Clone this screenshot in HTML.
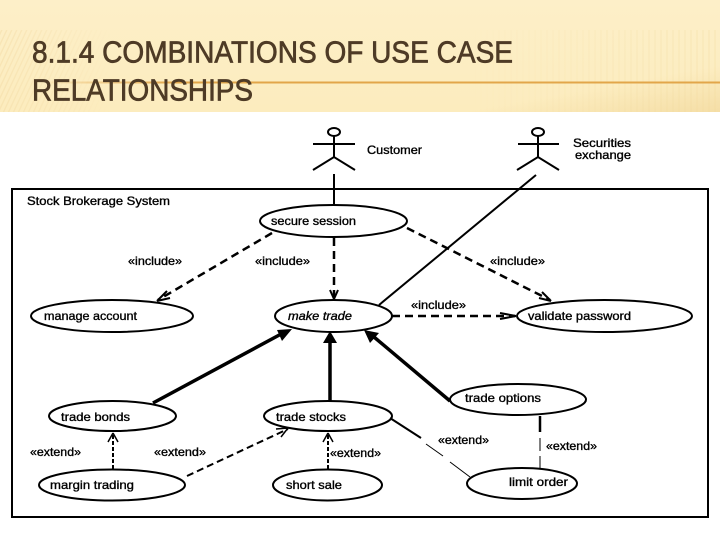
<!DOCTYPE html>
<html><head><meta charset="utf-8"><style>
html,body{margin:0;padding:0;background:#fff}
svg{display:block}
.t{font-family:"Liberation Sans",sans-serif;font-size:12px;fill:#000;stroke:#000;stroke-width:.35}
.h{font-family:"Liberation Sans",sans-serif;font-size:31px;fill:#4e3b26;stroke:#4e3b26;stroke-width:.7}
.d{stroke-dasharray:8 5}
</style></head><body>
<svg width="720" height="540" viewBox="0 0 720 540" xmlns="http://www.w3.org/2000/svg">
<defs>
<linearGradient id="bg" x1="0" y1="0" x2="0" y2="1"><stop offset="0" stop-color="#fdefc8"/><stop offset="1" stop-color="#fcecbe"/></linearGradient>
<linearGradient id="rule" x1="0" x2="1" y1="0" y2="0"><stop offset="0" stop-color="#e2a64a" stop-opacity="0"/><stop offset=".2" stop-color="#e2a64a"/><stop offset="1" stop-color="#e2a64a"/></linearGradient>
<linearGradient id="corner" x1="0" y1="0" x2="1" y2="1"><stop offset=".55" stop-color="#f0d597" stop-opacity="0"/><stop offset="1" stop-color="#f0d597" stop-opacity=".6"/></linearGradient>
<pattern id="diag" width="5" height="10" patternUnits="userSpaceOnUse" patternTransform="skewX(-25)"><rect x="0" width="1.5" height="10" fill="#f3dca6" opacity=".5"/></pattern>
<pattern id="vert" width="6" height="10" patternUnits="userSpaceOnUse"><rect x="0" width="2" height="10" fill="#f3dca6" opacity=".28"/></pattern>
<linearGradient id="mL" x1="0" x2="1" y1="0" y2="0"><stop offset="0" stop-color="#000"/><stop offset="1" stop-color="#fff"/></linearGradient>
<linearGradient id="mR" x1="0" x2="1" y1="0" y2="0"><stop offset="0" stop-color="#fff"/><stop offset="1" stop-color="#000"/></linearGradient>
<mask id="maskL"><rect x="0" y="30" width="110" height="82" fill="url(#mR)"/></mask>
<mask id="maskR"><rect x="470" y="30" width="250" height="82" fill="url(#mL)"/></mask>
</defs>

<rect width="720" height="112" fill="url(#bg)"/>
<rect x="0" y="30" width="110" height="82" fill="url(#diag)" mask="url(#maskL)"/>
<rect x="470" y="30" width="250" height="82" fill="url(#vert)" mask="url(#maskR)"/>
<rect x="430" y="60" width="290" height="52" fill="url(#corner)"/>
<rect x="40" y="81.5" width="680" height="2" fill="url(#rule)"/>
<text class="h" x="32" y="62.5" textLength="481" lengthAdjust="spacingAndGlyphs">8.1.4 COMBINATIONS OF USE CASE</text>
<text class="h" x="32" y="100.5" textLength="221" lengthAdjust="spacingAndGlyphs">RELATIONSHIPS</text>

<rect x="12" y="189" width="696" height="328" fill="#fff" stroke="#000" stroke-width="2"/>

<g fill="none" stroke="#000" stroke-width="2">
<!-- actors -->
<ellipse cx="334" cy="132" rx="6" ry="4"/>
<path d="M313 144H355M334 136V157M313 170L334 157L355 170"/>
<ellipse cx="538" cy="132" rx="6" ry="4"/>
<path d="M518 144H559M538 136V157M517 170L538 157L559 170"/>
<path d="M334 174V205"/>
<path d="M536 175L379 305"/>

<!-- use cases -->
<ellipse cx="333.5" cy="221" rx="73.5" ry="16"/>
<ellipse cx="112" cy="316" rx="81" ry="16"/>
<ellipse cx="333.5" cy="316" rx="58.5" ry="16"/>
<ellipse cx="604.5" cy="316" rx="87.5" ry="16"/>
<ellipse cx="112.5" cy="416" rx="63.5" ry="15"/>
<ellipse cx="328" cy="416" rx="64" ry="15"/>
<ellipse cx="112" cy="485" rx="73" ry="15.5"/>
<ellipse cx="327.5" cy="485" rx="54.5" ry="15.5"/>
<ellipse cx="518" cy="399.5" rx="68" ry="15.5"/>
<ellipse cx="522" cy="483.5" rx="55" ry="15.5"/>

<!-- include -->
<path class="d" stroke-width="2.5" d="M272 233L158 300"/>
<path d="M157 301L167 291M157 301L170 298"/>
<path class="d" stroke-width="2.5" d="M334 238V298"/>
<path d="M334 299L330 290M334 299L338 290"/>
<path class="d" stroke-width="2.5" d="M407 228L550 300"/>
<path d="M551 301L539 298M551 301L542 292"/>
<path class="d" stroke-width="2.5" d="M392 316H515"/>
<path d="M516 316L500 313M516 316L500 319"/>

<!-- extend -->
<path stroke-dasharray="4 2" d="M113 469V434"/>
<path stroke-width="1.5" d="M113 433L108 442M113 433L118 442"/>
<path stroke-dasharray="7 4" d="M187 476L288 429"/>
<path stroke-width="1.5" d="M288 428L276 429M288 428L281 437"/>
<path stroke-dasharray="4 2" d="M328 469V434"/>
<path stroke-width="1.5" d="M328 433L323 442M328 433L333 442"/>
<path d="M421 438L390 418"/>
<path stroke-width="1" d="M426 444L443 456M450 462L470 477"/>
<path stroke-width="2.5" d="M540 416V432"/>
<path stroke-width="1" d="M540 438V451M540 456V468"/>

<!-- generalization -->
<path stroke-width="3.5" d="M153 403L283 333"/>
<path stroke-width="3.5" d="M330 401V340"/>
<path stroke-width="3.5" d="M450 401L374 337"/>
</g>
<path d="M292 329L277 330L282 341Z" fill="#000"/>
<path d="M330 331L323 343H337Z" fill="#000"/>
<path d="M364 330L370 343L379 333Z" fill="#000"/>

<!-- labels -->
<g>
<text class="t" x="367" y="154" textLength="55" lengthAdjust="spacingAndGlyphs">Customer</text>
<text class="t" x="573" y="147" textLength="58" lengthAdjust="spacingAndGlyphs">Securities</text>
<text class="t" x="575" y="159" textLength="56" lengthAdjust="spacingAndGlyphs">exchange</text>
<text class="t" x="27" y="205" textLength="143" lengthAdjust="spacingAndGlyphs">Stock Brokerage System</text>
<text class="t" x="271" y="225" textLength="85" lengthAdjust="spacingAndGlyphs">secure session</text>
<text class="t" x="128" y="265" textLength="54" lengthAdjust="spacingAndGlyphs">«include»</text>
<text class="t" x="255" y="265" textLength="55" lengthAdjust="spacingAndGlyphs">«include»</text>
<text class="t" x="490" y="265" textLength="55" lengthAdjust="spacingAndGlyphs">«include»</text>
<text class="t" x="411" y="309" textLength="55" lengthAdjust="spacingAndGlyphs">«include»</text>
<text class="t" x="44" y="320" textLength="93" lengthAdjust="spacingAndGlyphs">manage account</text>
<text class="t" x="288" y="320" textLength="64" lengthAdjust="spacingAndGlyphs" font-style="italic">make trade</text>
<text class="t" x="528" y="320" textLength="103" lengthAdjust="spacingAndGlyphs">validate password</text>
<text class="t" x="465" y="402" textLength="76" lengthAdjust="spacingAndGlyphs">trade options</text>
<text class="t" x="61" y="421" textLength="69" lengthAdjust="spacingAndGlyphs">trade bonds</text>
<text class="t" x="276" y="421" textLength="70" lengthAdjust="spacingAndGlyphs">trade stocks</text>
<text class="t" x="30" y="456" textLength="51" lengthAdjust="spacingAndGlyphs">«extend»</text>
<text class="t" x="154" y="456" textLength="52" lengthAdjust="spacingAndGlyphs">«extend»</text>
<text class="t" x="330" y="457" textLength="51" lengthAdjust="spacingAndGlyphs">«extend»</text>
<text class="t" x="438" y="444" textLength="51" lengthAdjust="spacingAndGlyphs">«extend»</text>
<text class="t" x="546" y="450" textLength="51" lengthAdjust="spacingAndGlyphs">«extend»</text>
<text class="t" x="50" y="489" textLength="84" lengthAdjust="spacingAndGlyphs">margin trading</text>
<text class="t" x="286" y="489" textLength="56" lengthAdjust="spacingAndGlyphs">short sale</text>
<text class="t" x="509" y="486" textLength="59" lengthAdjust="spacingAndGlyphs">limit order</text>
</g>
</svg>
</body></html>
